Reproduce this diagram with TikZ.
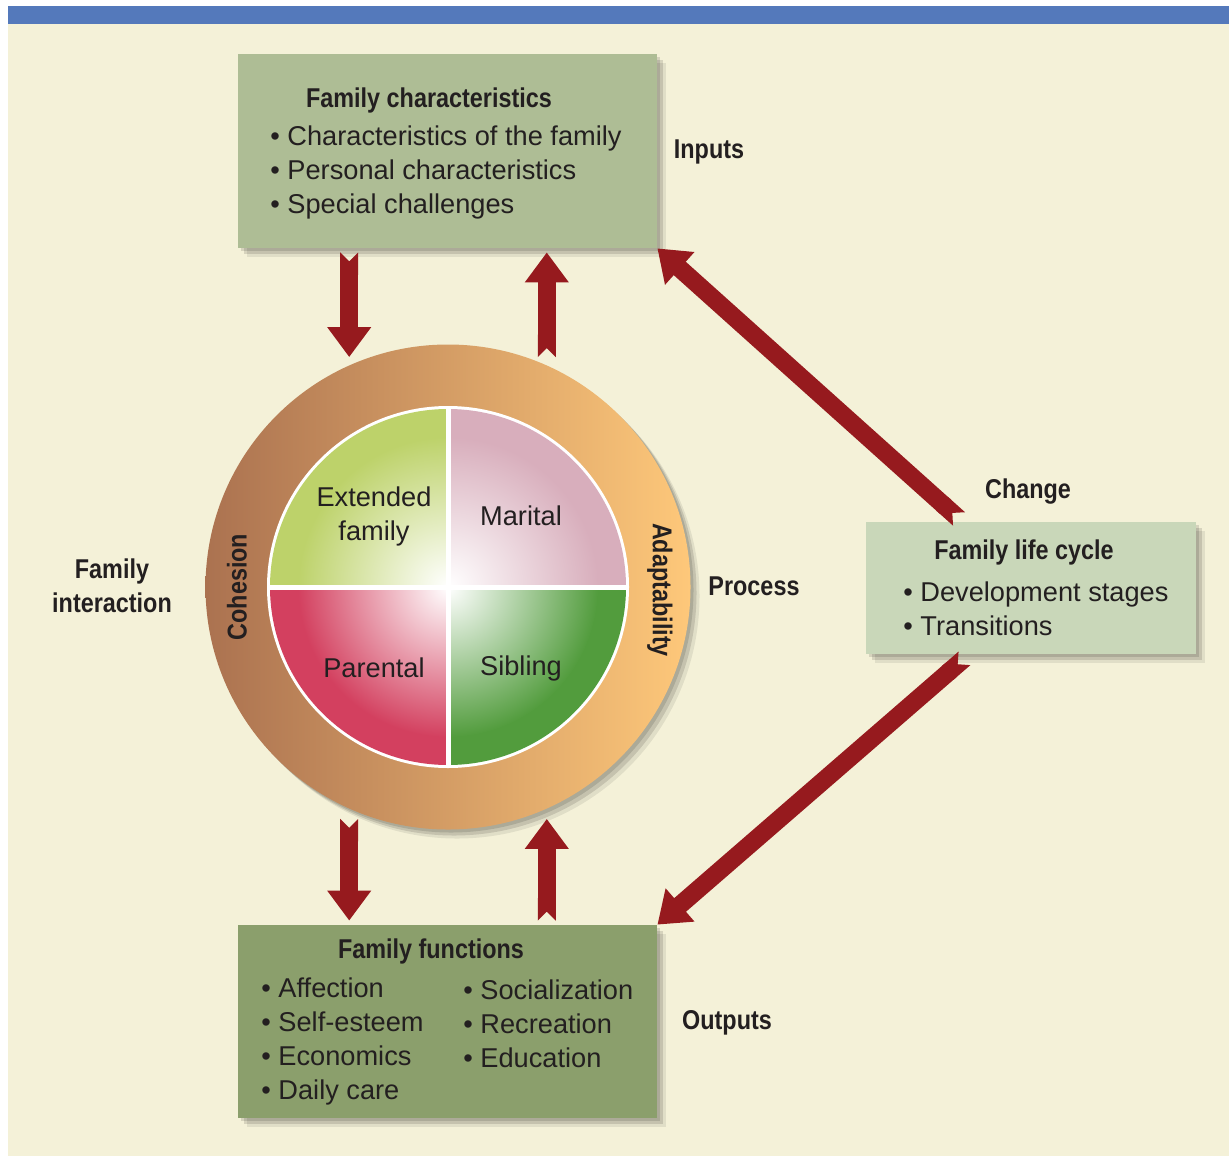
\documentclass[tikz,border=0pt]{standalone}
\usepackage{fontspec}
\setmainfont{Liberation Sans}[BoldFeatures={FakeStretch=0.86}]
\usepackage{xcolor}
\usetikzlibrary{arrows.meta,shadows}
\definecolor{bandBlue}{HTML}{5479BB}
\definecolor{bgCream}{HTML}{F4F1D8}
\definecolor{topGreen}{HTML}{AEBD95}
\definecolor{sideGreen}{HTML}{C9D7B9}
\definecolor{botGreen}{HTML}{8B9F6C}
\definecolor{ringBrown}{HTML}{AB7250}
\definecolor{ringOrange}{HTML}{FEC87A}
\definecolor{extGreen}{HTML}{BDD26A}
\definecolor{marPink}{HTML}{D8AEBC}
\definecolor{parRed}{HTML}{D3405F}
\definecolor{sibGreen}{HTML}{529C3D}
\definecolor{arrowRed}{HTML}{961A1E}
\definecolor{inkDark}{HTML}{231F20}
\newcommand\fSize{\fontsize{13.6}{17}\selectfont}
\tikzset{
  fShadow/.style={
    drop shadow={shadow xshift=1.5pt,shadow yshift=-1.5pt,opacity=.12,fill=black},
    drop shadow={shadow xshift=3pt,shadow yshift=-3pt,opacity=.12,fill=black},
    drop shadow={shadow xshift=4.5pt,shadow yshift=-4.5pt,opacity=.08,fill=black}},
  fBox/.style={fShadow,minimum width=209.5pt,minimum height=97pt,inner sep=0pt},
  fTitle/.style={font=\fSize\bfseries,text=inkDark,inner sep=0pt},
  fList/.style={font=\fSize,align=left,anchor=west,text=inkDark,inner sep=0pt},
  fLabel/.style={font=\fSize\bfseries,align=center,text=inkDark,inner sep=0pt},
  fQuad/.style={font=\fSize,align=center,text=inkDark,inner sep=0pt},
  bigArrow/.style={draw=arrowRed,line width=9pt,{Triangle Cap[reversed]}-{Triangle[length=15pt,width=21pt]}},
}
\newcommand\pieQuad[3]{%
  \begin{scope}
    \clip (448,587) -- ++(#1:178) arc (#1:#2:178) -- cycle;
    \fill[#3] (448,587) circle (180);
    \shade[inner color=white,outer color=#3] (448,587) circle (150);
  \end{scope}}

\begin{document}
\begin{tikzpicture}[x=0.5pt,y=-0.5pt]
\useasboundingbox (0,0) rectangle (1229,1156);
\fill[white] (0,0) rectangle (1229,1156);
\fill[bgCream] (8,24) rectangle (1229,1156);
\fill[bandBlue] (8,6) rectangle (1229,24);

% the three boxes
\node[fBox,fill=topGreen] (fchar) at (447.5,151) {};
\node[fBox,fill=sideGreen,minimum width=165pt,minimum height=66pt] (flife) at (1031,588) {};
\node[fBox,fill=botGreen,minimum height=96.5pt] (ffunc) at (447.5,1021.5) {};

% process wheel
\node[circle,fShadow,minimum size=242.5pt,inner sep=0pt,
      left color=ringBrown,right color=ringOrange] (proc) at (448,587) {};
\fill[white] (proc.center) circle (181);
\pieQuad{180}{270}{extGreen}
\pieQuad{270}{360}{marPink}
\pieQuad{90}{180}{parRed}
\pieQuad{0}{90}{sibGreen}
\draw[white,line width=2.5pt] (267,587) -- (629,587);
\draw[white,line width=2.5pt] (448,406) -- (448,768);

\node[fQuad] (qExt) at (374,516) {Extended\\family};
\node[fQuad] (qMar) at (521,516) {Marital};
\node[fQuad] (qPar) at (374,668) {Parental};
\node[fQuad] (qSib) at (521,668) {Sibling};
\node[fLabel,rotate=90] (lCoh) at (237,587) {Cohesion};
\node[fLabel,rotate=-90] (lAdapt) at (660,590) {Adaptability};

% box texts
\node[fTitle] (tChar) at (429,100) {Family characteristics};
\node[fList] (bChar) at (270,172) {\textbullet\ Characteristics of the family\\
  \textbullet\ Personal characteristics\\\textbullet\ Special challenges};
\node[fTitle] (tLife) at (1024,552) {Family life cycle};
\node[fList] (bLife) at (903,609) {\textbullet\ Development stages\\\textbullet\ Transitions};
\node[fTitle] (tFunc) at (431,951) {Family functions};
\node[fList] (bFuncA) at (261,1041) {\textbullet\ Affection\\\textbullet\ Self-esteem\\
  \textbullet\ Economics\\\textbullet\ Daily care};
\node[fList] (bFuncB) at (463,1024) {\textbullet\ Socialization\\\textbullet\ Recreation\\
  \textbullet\ Education};

% side labels
\node[fLabel] (lIn) at (709,152) {Inputs};
\node[fLabel] (lInt) at (112,586) {Family\\interaction};
\node[fLabel] (lProc) at (754,586) {Process};
\node[fLabel] (lChg) at (1028,492) {Change};
\node[fLabel] (lOut) at (727,1023) {Outputs};

% arrows
\draw[bigArrow,shorten <=2pt,shorten >=4pt] (fchar.south -| proc.114) -- (proc.114);
\draw[bigArrow,shorten <=4pt,shorten >=2pt] (proc.66) -- (fchar.south -| proc.66);
\draw[bigArrow,shorten <=5pt,shorten >=2pt] (proc.-114) -- (ffunc.north -| proc.-114);
\draw[bigArrow,shorten <=2pt,shorten >=5pt] (ffunc.north -| proc.-66) -- (proc.-66);
\draw[bigArrow,shorten <=2pt] ([xshift=-34.5pt]flife.north) -- (fchar.south east);
\draw[bigArrow,shorten <=3pt] ([xshift=-31pt]flife.south) -- (ffunc.north east);
\end{tikzpicture}
\end{document}
